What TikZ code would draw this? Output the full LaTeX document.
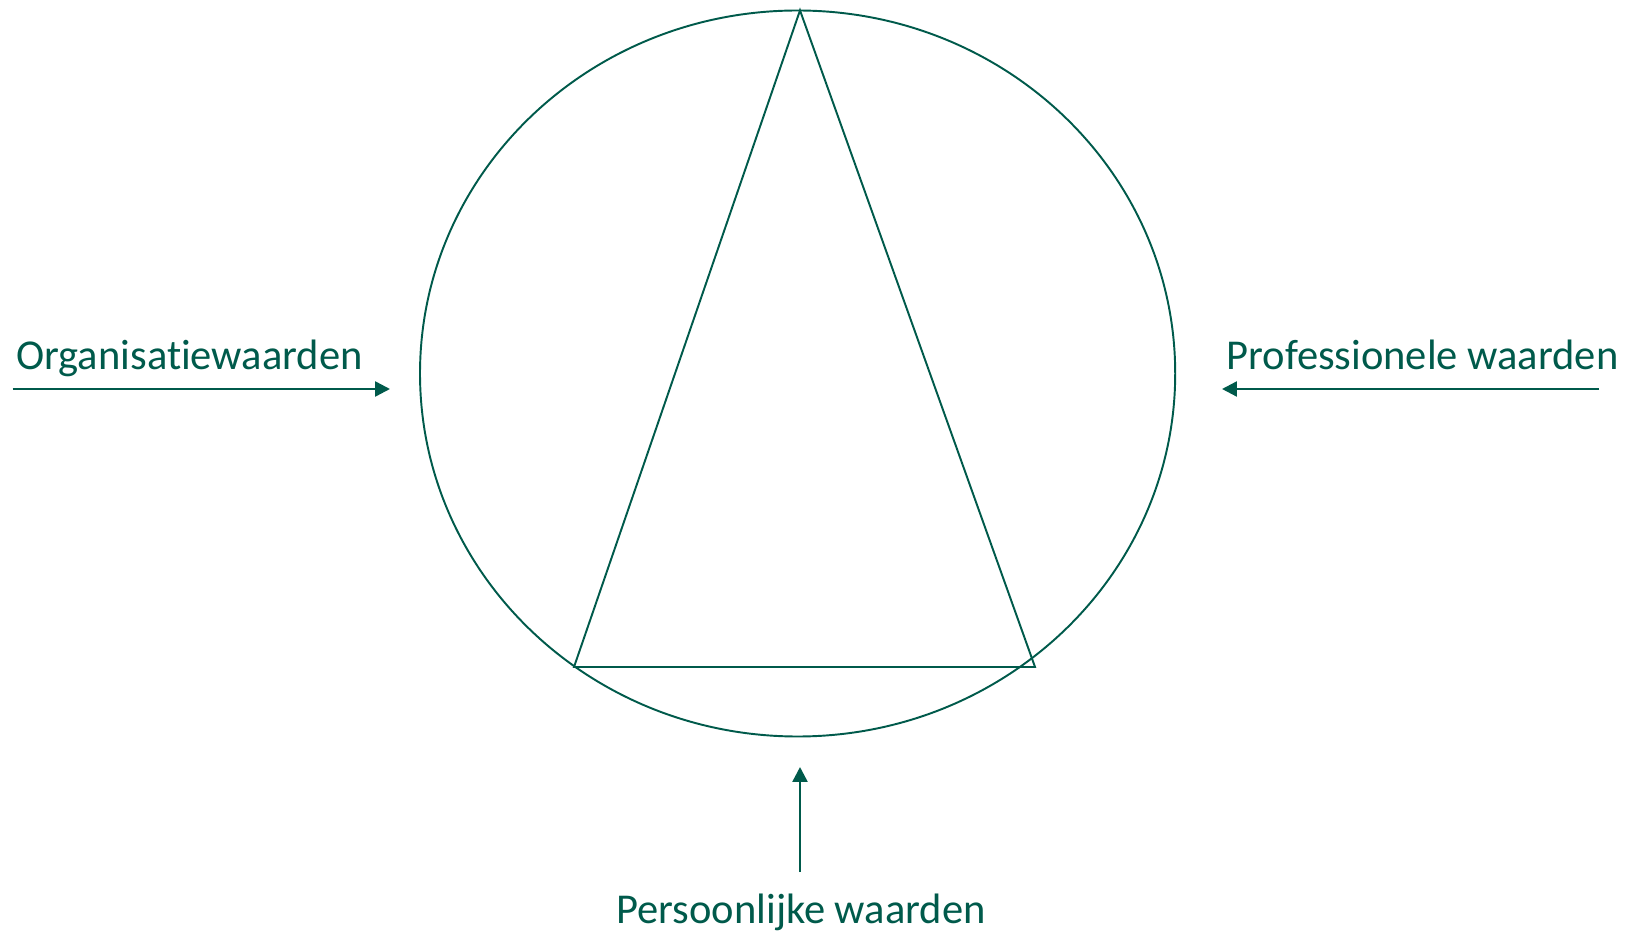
\documentclass[tikz,border=0pt]{standalone}
\usepackage{fontspec}
\setmainfont[Ligatures=NoCommon]{Carlito}
\usepackage{xcolor}
\usepackage{tikz}
\usetikzlibrary{positioning,arrows.meta}

\definecolor{dgreen}{HTML}{005A4B}

\begin{document}
\begin{tikzpicture}[
    x=0.02cm, y=0.02cm,
    outline/.style={
        draw=dgreen,
        line width=1.1pt
    },
    valtext/.style={
        text=dgreen,
        anchor=base,
        inner sep=0pt,
        font=\fontsize{24.2}{28}\selectfont
    },
    arrow/.style={-{Triangle[length=8.5pt, width=8.5pt]}, draw=dgreen, line width=1.4pt}
]
\useasboundingbox (0,0) rectangle (1631,933);

% ellipse with triangle inside
\coordinate (mid) at (797.6,559.5);
\draw[outline] (mid) ellipse [x radius=377.6, y radius=363];

\coordinate (top) at (800,922.6);
\coordinate (bl) at (574,266);
\coordinate (br) at (1035,266);
\draw[outline] (top) -- (bl) -- (br) -- cycle;

% labels
\node[valtext] (org) at (189.5,563) {Organisatiewaarden};
\node[valtext] (prof) at (1422.5,563) {Professionele waarden};
\node[valtext] (pers) at (801,10) {Persoonlijke waarden};

% arrows
\coordinate (orgA) at (12.5,544);
\coordinate (orgB) at (390,544);
\coordinate (profA) at (1599,544);
\coordinate (profB) at (1222,544);
\coordinate (persA) at (800,61);
\coordinate (persB) at (800,166);

\draw[arrow] (orgA) -- (orgB);
\draw[arrow] (profA) -- (profB);
\draw[arrow] (persA) -- (persB);

\end{tikzpicture}
\end{document}
